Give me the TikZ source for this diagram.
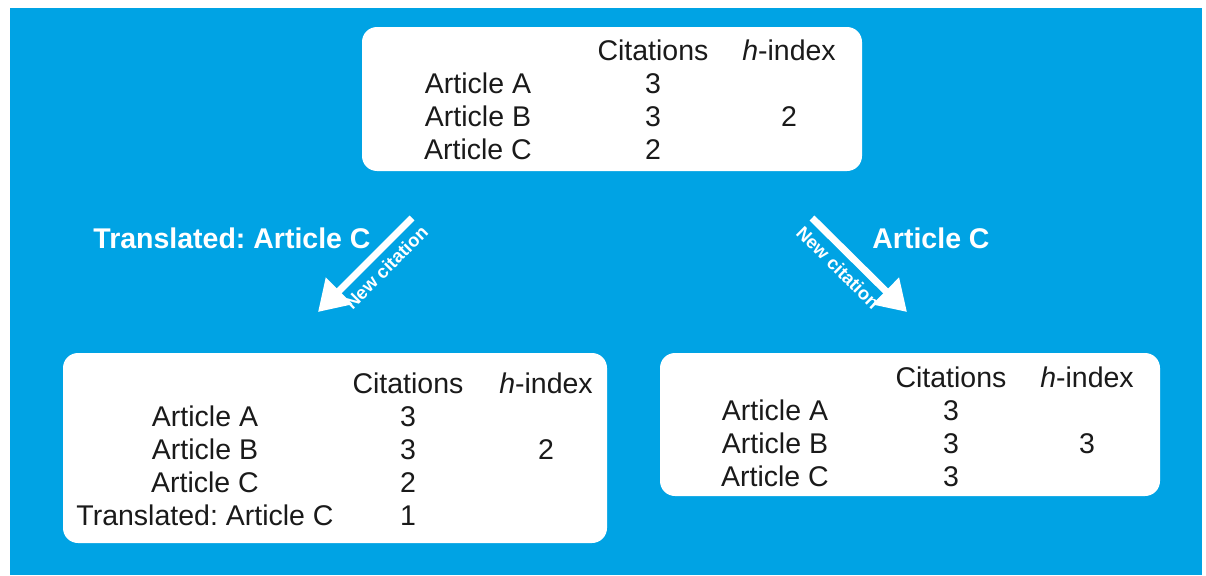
\documentclass[tikz,border=0pt]{standalone}
\usepackage{fontspec}
\setmainfont{Liberation Sans}
\usetikzlibrary{arrows.meta}
\definecolor{hBlue}{HTML}{00A3E4}
\definecolor{hText}{HTML}{1A1A1A}
\frenchspacing

\begin{document}
\begin{tikzpicture}[x=0.5pt,y=0.5pt]
    \pgfmathsetmacro{\dy}{33}
    \tikzset{
        tablebox/.style={fill=white,rounded corners=7.5pt,inner sep=0},
        cell/.style={font=\fontsize{14.25}{16.5}\selectfont,text=hText,anchor=base,inner sep=0},
        branchtext/.style={font=\fontsize{14.25}{16.5}\selectfont\bfseries,text=white,inner sep=0},
        citetext/.style={font=\fontsize{9.2}{10}\selectfont\bfseries,text=white,inner sep=0,outer sep=5pt,anchor=north},
        newcit/.style={draw=white,line width=3.5pt,-{Triangle[length=15pt,width=18pt]}}
    };
    \useasboundingbox (0,0) rectangle (1206,575);
    \fill[hBlue] (10,0) rectangle (1202,567);
    % tables
    \node[tablebox,minimum width=250pt,minimum height=72pt] (topBox) at (612,476) {};
    \node[tablebox,minimum width=272pt,minimum height=95pt] (leftBox) at (335,127) {};
    \node[tablebox,minimum width=250pt,minimum height=71.5pt] (rightBox) at (910,150.5) {};
    % top table
    \node[cell] (topCit) at (653,515) {Citations};
    \node[cell] (topH) at (789,515) {\textit{h}-index};
    \foreach \art/\cit [count=\i] in {A/3,B/3,C/2}{
        \node[cell] (topArt\i) at (478,515-\i*\dy) {Article \art};
        \node[cell] (topNum\i) at (653,515-\i*\dy) {\cit};}
    \node[cell] (topHval) at (789,449) {2};
    % left table
    \node[cell] (leftCit) at (408,182) {Citations};
    \node[cell] (leftH) at (546,182) {\textit{h}-index};
    \foreach \art/\cit [count=\i] in {Article A/3,Article B/3,Article C/2,Translated: Article C/1}{
        \node[cell] (leftArt\i) at (205,182-\i*\dy) {\art};
        \node[cell] (leftNum\i) at (408,182-\i*\dy) {\cit};}
    \node[cell] (leftHval) at (546,116) {2};
    % right table
    \node[cell] (rightCit) at (951,188) {Citations};
    \node[cell] (rightH) at (1087,188) {\textit{h}-index};
    \foreach \art/\cit [count=\i] in {A/3,B/3,C/3}{
        \node[cell] (rightArt\i) at (775,188-\i*\dy) {Article \art};
        \node[cell] (rightNum\i) at (951,188-\i*\dy) {\cit};}
    \node[cell] (rightHval) at (1087,122) {3};
    % branches
    \node[branchtext] (leftLabel) at (232,337) {Translated: Article C};
    \node[branchtext] (rightLabel) at (931,337) {Article C};
    \coordinate (leftFrom) at (412,357);
    \coordinate (leftTo) at (318,263);
    \coordinate (rightFrom) at (812,357);
    \coordinate (rightTo) at (907,263);
    \draw[newcit] (leftFrom) -- node[citetext,pos=0.4,sloped] {New citation} (leftTo);
    \draw[newcit] (rightFrom) -- node[citetext,pos=0.4,sloped] {New citation} (rightTo);
\end{tikzpicture}
\end{document}
